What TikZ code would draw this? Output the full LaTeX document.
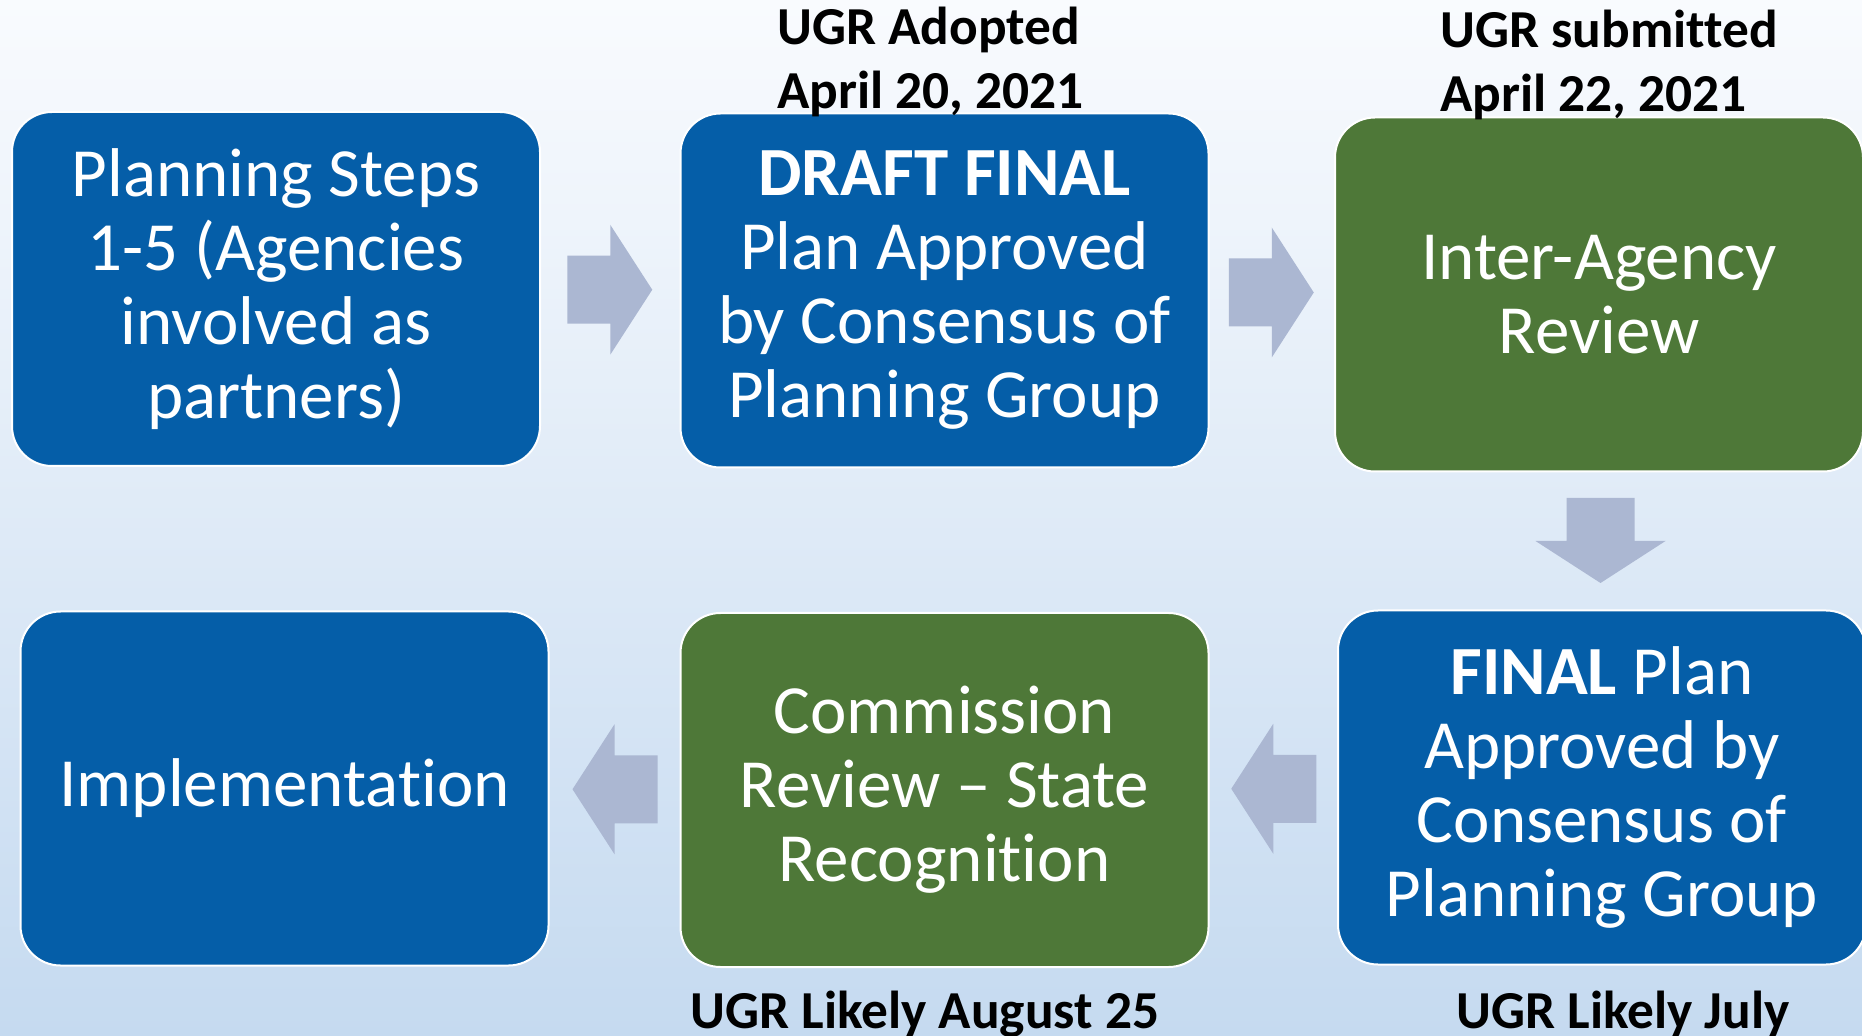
\documentclass[tikz,border=0pt]{standalone}
\usepackage{fontspec}
\setmainfont{Carlito}[Ligatures=NoCommon]
\usetikzlibrary{calc}
\definecolor{boxblue}{RGB}{5,94,168}
\definecolor{boxgreen}{RGB}{78,120,56}
\definecolor{arrowc}{RGB}{171,183,210}
\definecolor{bgtop}{RGB}{249,251,254}
\definecolor{bgbot}{RGB}{197,218,240}
\tikzset{pics/barrow/.style={code={\fill[arrowc] (-43,-34) -- (0,-34) -- (0,-65) -- (42,0) -- (0,65) -- (0,34) -- (-43,34) -- cycle;}}}
\begin{document}
\begin{tikzpicture}[x=0.5pt,y=-0.5pt,
  stepbox/.style={draw=white, line width=1pt, rounded corners=20pt, minimum width=264pt, minimum height=177pt, align=center, text=white, font=\fontsize{34.5}{37}\selectfont, inner sep=0pt},
  bluebox/.style={stepbox, fill=boxblue},
  greenbox/.style={stepbox, fill=boxgreen},
  datelabel/.style={font=\fontsize{26.7}{32}\selectfont\bfseries, align=left, text=black, inner sep=0pt}]
\useasboundingbox (0,0) rectangle (1862,1036);
\fill[top color=bgtop, bottom color=bgbot] (0,0) rectangle (1862,1036);

\node[bluebox] (b1) at (276,289) {Planning Steps\\1-5 (Agencies\\involved as\\partners)};
\node[bluebox] (b2) at (944.5,290.5) {{\bfseries DRAFT FINAL}\\Plan Approved\\by Consensus of\\Planning Group};
\node[greenbox] (b3) at (1599,294.5) {Inter-Agency\\Review};
\node[bluebox] (b4) at (284.5,788.5) {Implementation};
\node[greenbox] (b5) at (944.5,790) {Commission\\Review -- State\\Recognition};
\node[bluebox] (b6) at (1602,787.5) {{\bfseries FINAL} Plan\\Approved by\\Consensus of\\Planning Group};

\pic at ($(b1.east)!0.5!(b2.west)$) {barrow};
\pic at ($(b2.east)!0.5!(b3.west)$) {barrow};
\pic[rotate=-90] at ($(b3.south)!0.5!(b6.north)$) {barrow};
\pic[rotate=180] at ($(b6.west)!0.5!(b5.east)$) {barrow};
\pic[rotate=180] at ($(b5.west)!0.5!(b4.east)$) {barrow};

\node[datelabel, anchor=west] (l1) at (777,62) {UGR Adopted\\April 20, 2021};
\node[datelabel, anchor=west] (l2) at (1440,65) {UGR submitted\\April 22, 2021};
\node[datelabel] (l3) at (925,1014) {UGR Likely August 25};
\node[datelabel] (l4) at (1623,1014) {UGR Likely July};
\end{tikzpicture}
\end{document}
